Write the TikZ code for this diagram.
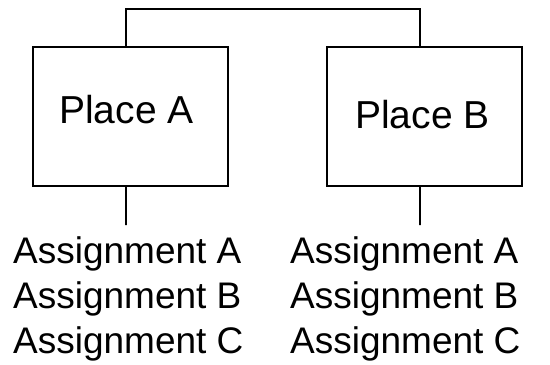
\documentclass[tikz,border=0pt]{standalone}
\usepackage{fontspec}
\setmainfont{Liberation Sans}
\begin{document}
\begin{tikzpicture}[x=1bp,y=-1bp,
  place/.style={draw,line width=1.8bp,minimum width=195bp,minimum height=139bp,inner sep=0pt},
  wire/.style={line width=1.8bp},
  title/.style={font=\fontsize{39bp}{39bp}\selectfont,anchor=base,inner sep=0pt},
  task/.style={font=\fontsize{37bp}{45bp}\selectfont,anchor=base west,inner sep=0pt}]
\useasboundingbox (0,0) rectangle (550,364);
\fill[white] (0,0) rectangle (550,364);
% the two places
\node[place] (pa) at (130.5,116.5) {};
\node[place] (pb) at (424.5,116.5) {};
\node[title] (ta) at (126.5,123) {Place A};
\node[title] (tb) at (422.5,128) {Place B};
% link between the places
\draw[wire] ([xshift=-4.5bp]pa.north) -- ++(0,-37) -| ([xshift=-4.5bp]pb.north);
% drops to the assignment lists
\coordinate (da) at (126,225);
\coordinate (db) at (420,225);
\draw[wire] ([xshift=-4.5bp]pa.south) -- (da);
\draw[wire] ([xshift=-4.5bp]pb.south) -- (db);
% assignment lists
\node[task] (a1) at (13,263) {Assignment A};
\node[task] (a2) at (13,308) {Assignment B};
\node[task] (a3) at (13,353) {Assignment C};
\node[task] (b1) at (290,263) {Assignment A};
\node[task] (b2) at (290,308) {Assignment B};
\node[task] (b3) at (290,353) {Assignment C};
\end{tikzpicture}
\end{document}
